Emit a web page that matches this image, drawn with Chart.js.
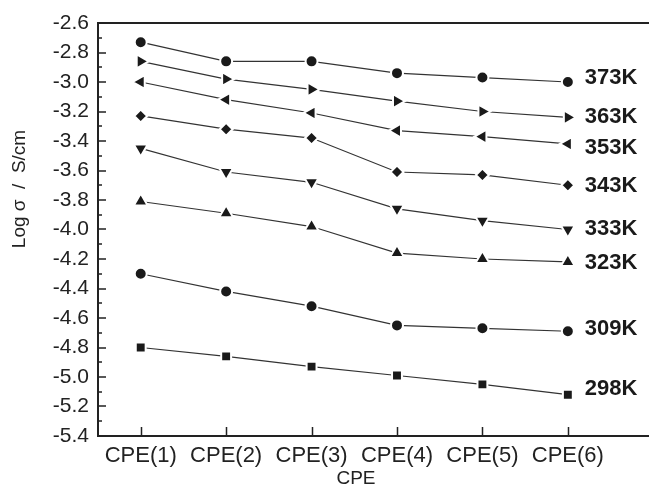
<!DOCTYPE html>
<html><head><meta charset="utf-8">
<script src="https://cdn.jsdelivr.net/npm/chart.js@4/dist/chart.umd.min.js"></script>
<style>html,body{margin:0;padding:0;background:#fff;overflow:hidden}canvas{display:block}</style>
</head><body>
<canvas id="c" width="649" height="500"></canvas>
<script>
// ---- data ----
const categories = ['CPE(1)','CPE(2)','CPE(3)','CPE(4)','CPE(5)','CPE(6)'];
const seriesNames = ['373K','363K','353K','343K','333K','323K','309K','298K'];
const s373K = [-2.73,-2.86,-2.86,-2.94,-2.97,-3.00];
const s363K = [-2.86,-2.98,-3.05,-3.13,-3.20,-3.24];
const s353K = [-3.00,-3.12,-3.21,-3.33,-3.37,-3.42];
const s343K = [-3.23,-3.32,-3.38,-3.61,-3.63,-3.70];
const s333K = [-3.45,-3.61,-3.68,-3.86,-3.94,-4.00];
const s323K = [-3.81,-3.89,-3.98,-4.16,-4.20,-4.22];
const s309K = [-4.30,-4.42,-4.52,-4.65,-4.67,-4.69];
const s298K = [-4.80,-4.86,-4.93,-4.99,-5.05,-5.12];
const seriesValues = [s373K,s363K,s353K,s343K,s333K,s323K,s309K,s298K];
const yMin = -5.4, yMax = -2.6, yStep = 0.2, yMinorStep = 0.1;

// ---- styles ----
const markerStyles = [
  {style:'circle', rot:0, r:6},
  {style:'triangle', rot:90, r:8},
  {style:'triangle', rot:-90, r:8},
  {style:'rectRot', rot:0, r:6.5},
  {style:'triangle', rot:180, r:8},
  {style:'triangle', rot:0, r:8},
  {style:'circle', rot:0, r:6},
  {style:'rect', rot:0, r:7}
];
const labelNudge = [-4,0,4,1,-1,1,-2,-6];
const FONT = '"Liberation Sans", Arial, Helvetica, sans-serif';
const INK = '#1a1a1a';

const datasets = seriesValues.map((vals,i)=>({
  label: seriesNames[i],
  data: vals.map((v,j)=>({x:j+1, y:v})),
  borderColor:'#333',
  borderWidth:1.2,
  pointStyle: markerStyles[i].style,
  pointRotation: markerStyles[i].rot,
  pointRadius: markerStyles[i].r,
  pointBackgroundColor: INK,
  pointBorderColor:'#fff',
  pointBorderWidth:2,
  tension:0,
  clip:false
}));

const decor = {
  id:'decor',
  afterDraw(chart){
    const {ctx, chartArea:a, scales:{x,y}} = chart;
    ctx.save();
    ctx.strokeStyle = '#222';
    ctx.lineWidth = 2;
    ctx.beginPath();
    ctx.moveTo(a.left-1, a.top); ctx.lineTo(a.right, a.top);
    ctx.stroke();
    ctx.lineWidth = 1.5;
    ctx.beginPath();
    const n = Math.round((yMax-yMin)/yMinorStep);
    for(let i=0;i<=n;i++){
      const v = yMin + i*yMinorStep;
      const py = Math.round(y.getPixelForValue(v));
      const len = (i%2===0) ? 8 : 4;
      ctx.moveTo(a.left, py); ctx.lineTo(a.left+len, py);
    }
    categories.forEach((c,i)=>{
      const px = Math.round(x.getPixelForValue(i+1))+0.5;
      ctx.moveTo(px, a.bottom); ctx.lineTo(px, a.bottom-9);
    });
    ctx.stroke();
    // series labels
    ctx.fillStyle = INK;
    ctx.font = 'bold 22px ' + FONT;
    ctx.textAlign = 'left';
    ctx.textBaseline = 'middle';
    seriesValues.forEach((vals,i)=>{
      const last = vals.length;
      const px = x.getPixelForValue(last) + 17;
      const py = y.getPixelForValue(vals[last-1]) + labelNudge[i];
      ctx.fillText(seriesNames[i], px, py);
    });
    // axis titles
    ctx.font = '19px ' + FONT;
    ctx.fillStyle = '#222';
    ctx.textAlign = 'center';
    ctx.fillText('CPE', 356, 479);
    ctx.translate(20, 189);
    ctx.rotate(-Math.PI/2);
    ctx.fillText('Log σ  /  S/cm', 0, 0);
    ctx.restore();
  }
};

new Chart(document.getElementById('c'), {
  type:'line',
  data:{datasets},
  options:{
    responsive:false,
    animation:false,
    devicePixelRatio:1,
    layout:{autoPadding:false, padding:{top:23,right:0,left:0,bottom:0}},
    plugins:{legend:{display:false}, tooltip:{enabled:false}},
    scales:{
      x:{
        type:'linear', min:0.5, max:6.95,
        afterBuildTicks(s){ s.ticks = categories.map((c,i)=>({value:i+1})); },
        afterFit(s){ s.height = 64; s.paddingRight = 0; s.paddingLeft = 0; },
        grid:{display:false, drawTicks:false},
        border:{display:true, color:'#222', width:2},
        ticks:{
          padding:7, color:'#222', maxRotation:0, autoSkip:false,
          font:{family:FONT, size:22},
          callback:(v)=>categories[Math.round(v)-1]
        }
      },
      y:{
        type:'linear', min:yMin, max:yMax,
        afterBuildTicks(s){
          const t=[]; const n=Math.round((yMax-yMin)/yStep);
          for(let i=0;i<=n;i++) t.push({value: +(yMin+i*yStep).toFixed(1)});
          s.ticks=t;
        },
        afterFit(s){ s.width = 98; },
        grid:{display:false, drawTicks:false},
        border:{display:true, color:'#222', width:2},
        ticks:{
          padding:9, color:'#222',
          font:{family:FONT, size:21},
          callback:(v)=>Number(v).toFixed(1)
        }
      }
    }
  },
  plugins:[decor]
});
</script>
</body></html>
